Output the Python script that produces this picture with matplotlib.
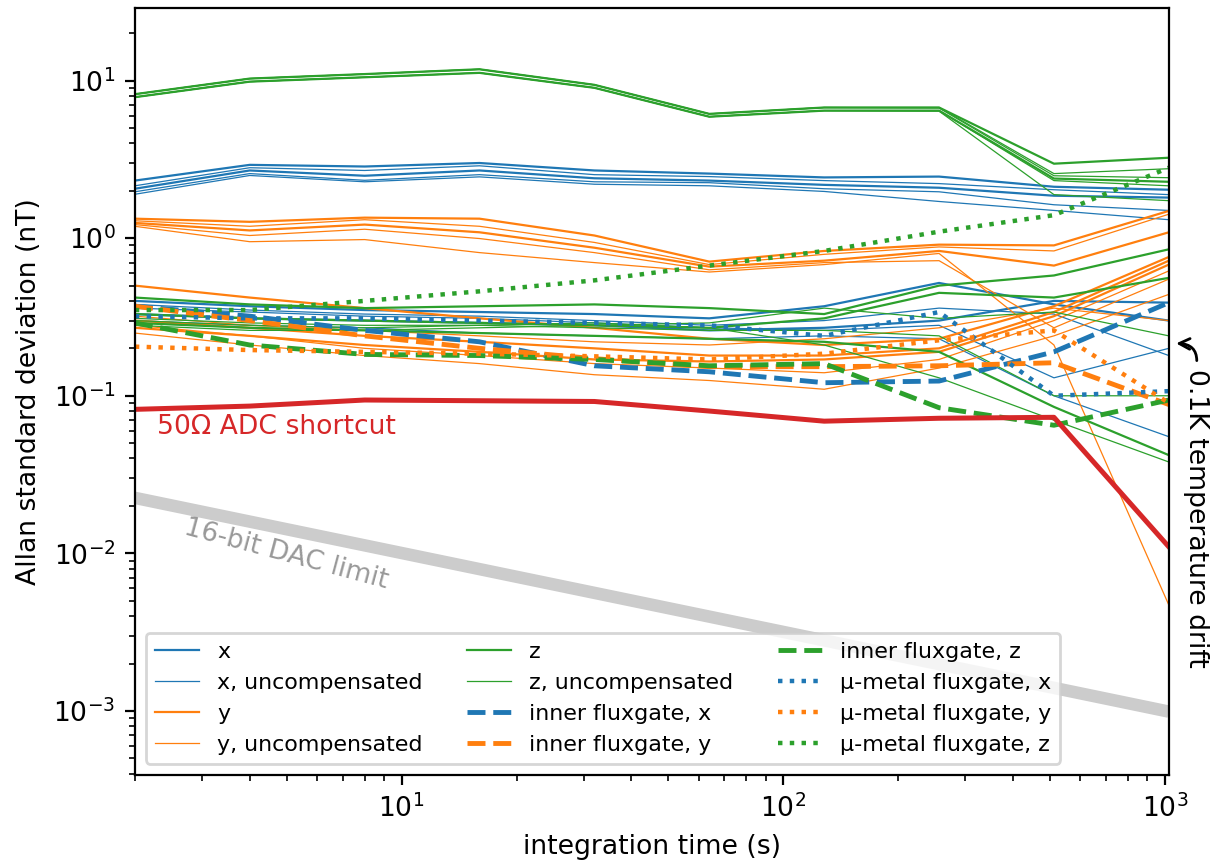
import matplotlib
matplotlib.use('Agg')
import matplotlib.pyplot as plt

# integration times (s)
tau = [2, 4, 8, 16, 32, 64, 128, 256, 512, 1024]

# x channel
x_comp = [
    [2.32, 2.92, 2.85, 3.00, 2.69, 2.57, 2.43, 2.46, 2.12, 2.03],
    [2.06, 2.69, 2.49, 2.69, 2.40, 2.32, 2.18, 2.09, 1.86, 1.81],
    [0.40, 0.37, 0.35, 0.34, 0.33, 0.31, 0.37, 0.52, 0.38, 0.30],
    [0.33, 0.31, 0.30, 0.29, 0.28, 0.26, 0.27, 0.30, 0.40, 0.39],
]
x_uncomp = [
    [2.15, 2.80, 2.69, 2.88, 2.53, 2.46, 2.32, 2.22, 2.03, 1.89],
    [1.97, 2.57, 2.33, 2.53, 2.28, 2.25, 2.06, 1.97, 1.63, 1.50],
    [1.90, 2.50, 2.28, 2.45, 2.20, 2.15, 1.98, 1.71, 1.50, 1.31],
    [0.36, 0.34, 0.32, 0.31, 0.29, 0.27, 0.26, 0.28, 0.13, 0.20],
    [0.30, 0.28, 0.27, 0.25, 0.24, 0.23, 0.24, 0.23, 0.10, 0.055],
    [0.38, 0.35, 0.33, 0.32, 0.30, 0.28, 0.30, 0.36, 0.33, 0.18],
]

# y channel
y_comp = [
    [1.33, 1.27, 1.35, 1.33, 1.04, 0.71, 0.83, 0.91, 0.90, 1.49],
    [1.25, 1.12, 1.22, 1.09, 0.87, 0.66, 0.72, 0.83, 0.67, 1.09],
    [0.50, 0.42, 0.36, 0.31, 0.27, 0.23, 0.21, 0.23, 0.37, 0.76],
    [0.30, 0.27, 0.24, 0.22, 0.20, 0.18, 0.18, 0.20, 0.34, 0.72],
    [0.27, 0.24, 0.21, 0.19, 0.17, 0.165, 0.17, 0.19, 0.32, 0.68],
]
y_uncomp = [
    [1.29, 1.19, 1.31, 1.19, 0.94, 0.68, 0.79, 0.88, 0.83, 1.42],
    [1.22, 1.04, 1.14, 0.995, 0.81, 0.63, 0.70, 0.72, 0.27, 0.55],
    [1.19, 0.95, 0.98, 0.81, 0.70, 0.61, 0.68, 0.80, 0.21, 0.0047],
    [0.28, 0.24, 0.20, 0.18, 0.16, 0.15, 0.14, 0.17, 0.30, 0.62],
    [0.25, 0.21, 0.18, 0.16, 0.136, 0.125, 0.11, 0.15, 0.24, 0.44],
    [0.32, 0.28, 0.26, 0.24, 0.22, 0.21, 0.23, 0.27, 0.36, 0.30],
]

# z channel
z_comp = [
    [8.20, 10.3, 11.0, 11.8, 9.4, 6.15, 6.75, 6.75, 2.97, 3.24],
    [7.85, 9.85, 10.5, 11.2, 9.0, 5.9, 6.45, 6.45, 2.39, 2.28],
    [0.42, 0.38, 0.36, 0.37, 0.38, 0.36, 0.33, 0.50, 0.58, 0.85],
    [0.33, 0.31, 0.30, 0.29, 0.28, 0.27, 0.31, 0.45, 0.42, 0.56],
    [0.29, 0.27, 0.26, 0.25, 0.24, 0.23, 0.22, 0.19, 0.085, 0.042],
]
z_uncomp = [
    [8.20, 10.3, 11.0, 11.8, 9.4, 6.15, 6.75, 6.75, 2.57, 2.76],
    [8.20, 10.3, 11.0, 11.8, 9.4, 6.15, 6.75, 6.70, 2.49, 2.42],
    [7.85, 9.85, 10.5, 11.2, 9.0, 5.9, 6.45, 6.45, 2.32, 2.15],
    [7.85, 9.85, 10.5, 11.2, 9.0, 5.9, 6.45, 6.40, 1.89, 1.73],
    [0.31, 0.29, 0.28, 0.28, 0.27, 0.26, 0.26, 0.24, 0.10, 0.10],
    [0.28, 0.26, 0.26, 0.27, 0.28, 0.29, 0.36, 0.31, 0.34, 0.24],
    [0.30, 0.28, 0.27, 0.28, 0.29, 0.27, 0.21, 0.13, 0.07, 0.038],
]

# fluxgate references
inner_x = [0.37, 0.32, 0.26, 0.22, 0.155, 0.142, 0.121, 0.124, 0.19, 0.39]
inner_y = [0.37, 0.30, 0.24, 0.20, 0.172, 0.153, 0.153, 0.155, 0.162, 0.088]
inner_z = [0.29, 0.21, 0.183, 0.18, 0.17, 0.155, 0.16, 0.084, 0.065, 0.094]
mu_x = [0.32, 0.31, 0.31, 0.30, 0.29, 0.28, 0.24, 0.34, 0.10, 0.107]
mu_y = [0.205, 0.195, 0.19, 0.185, 0.178, 0.17, 0.185, 0.225, 0.26, 0.09]
mu_z = [0.35, 0.35, 0.40, 0.46, 0.54, 0.67, 0.83, 1.10, 1.40, 2.80]

# 50 Ohm shortcut on the ADC
shortcut = [0.082, 0.086, 0.094, 0.093, 0.092, 0.080, 0.069, 0.072, 0.073, 0.011]

# 16-bit DAC limit (end points)
dac_tau = [2, 1024]
dac = [0.0225, 0.00099]

plt.rcParams['font.size'] = 9.6

fig, ax = plt.subplots(figsize=(6.075, 4.3), dpi=200)
fig.subplots_adjust(left=0.111, right=0.962, bottom=0.099, top=0.991)

ax.plot(dac_tau, dac, color='0.8', lw=4.5, solid_capstyle='butt')

handles = []
for color, comp, uncomp, name in [('C0', x_comp, x_uncomp, 'x'),
                                  ('C1', y_comp, y_uncomp, 'y'),
                                  ('C2', z_comp, z_uncomp, 'z')]:
    for i, v in enumerate(comp):
        l, = ax.plot(tau, v, color=color, lw=0.8)
        if i == 0:
            h1 = l
            h1.set_label(name)
    for i, v in enumerate(uncomp):
        l, = ax.plot(tau, v, color=color, lw=0.45)
        if i == 0:
            h2 = l
            h2.set_label(name + ', uncompensated')
    handles += [h1, h2]

for v, color, name in [(inner_x, 'C0', 'x'), (inner_y, 'C1', 'y'), (inner_z, 'C2', 'z')]:
    l, = ax.plot(tau, v, color=color, lw=1.75, ls='--', label='inner fluxgate, ' + name)
    handles.append(l)
for v, color, name in [(mu_x, 'C0', 'x'), (mu_y, 'C1', 'y'), (mu_z, 'C2', 'z')]:
    l, = ax.plot(tau, v, color=color, lw=1.6, ls=':', label='µ-metal fluxgate, ' + name)
    handles.append(l)

ax.plot(tau, shortcut, color='C3', lw=1.8)

ax.text(2.28, 0.063, '50Ω ADC shortcut', color='C3', va='center', ha='left')
ax.text(4.97, 0.0098, '16-bit DAC limit', color='0.6', rotation=-15,
        rotation_mode='anchor', ha='center', va='center')
ax.annotate('0.1K temperature drift', xy=(1070, 0.215), xytext=(1205, 0.148),
            rotation=270, ha='center', va='top', annotation_clip=False,
            arrowprops=dict(arrowstyle='->', connectionstyle='arc3,rad=0.6',
                            lw=1.0, relpos=(0.5, 1.0), shrinkA=1, shrinkB=0))

ax.set_xscale('log')
ax.set_yscale('log')
ax.set_xlim(2, 1024)
ax.set_ylim(3.93e-4, 29)
ax.set_xlabel('integration time (s)')
ax.set_ylabel('Allan standard deviation (nT)')
ax.legend(handles=handles, loc='lower left', ncol=3, fontsize='small')

fig.savefig('out.png')
